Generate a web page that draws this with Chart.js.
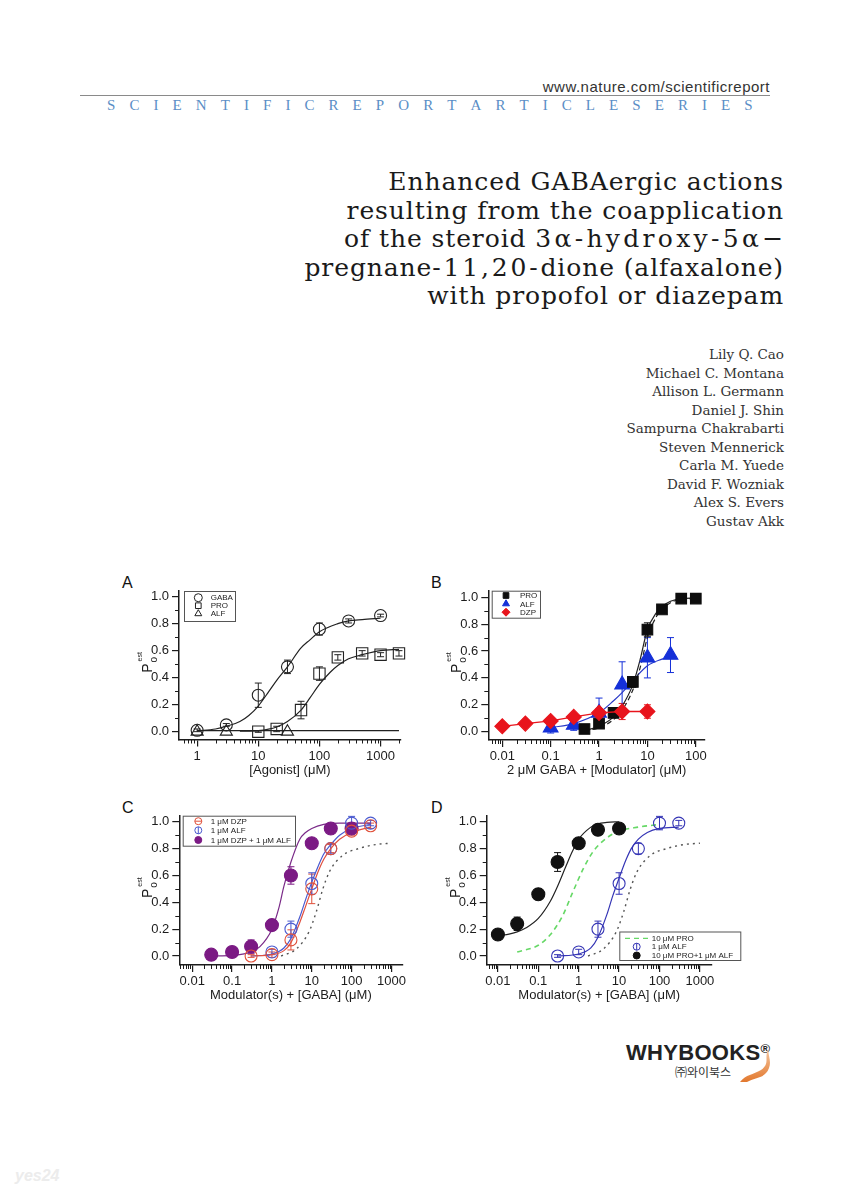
<!DOCTYPE html>
<html>
<head>
<meta charset="utf-8">
<script src="https://cdn.jsdelivr.net/npm/chart.js@4.4.1/dist/chart.umd.min.js"></script>
<style>
  html, body { margin: 0; padding: 0; background: #fff; }
  body { width: 849px; height: 1200px; position: relative; overflow: hidden; font-family: 'Liberation Sans', Arial, sans-serif; }
  .abs { position: absolute; }
  #url { right: 79px; top: 78px; font: 15px 'Liberation Sans', sans-serif; letter-spacing: 0.5px; color: #333; }
  #rule { left: 80px; top: 95px; width: 690px; height: 0; border-top: 1px solid #8a8a8a; }
  #series { left: 107px; top: 97px; width: 646px; display: flex; justify-content: space-between; font: 15px 'Liberation Serif', serif; color: #5a8ec6; }
  #title { right: 65px; top: 168px; text-align: right; font: 25px 'DejaVu Serif', serif; letter-spacing: 0.9px; line-height: 28.6px; color: #1a1a1a; white-space: nowrap; }
  #title .w3 { letter-spacing: 3.3px; }
  #title .w4 { letter-spacing: 2.8px; }
  #authors { right: 65px; top: 345px; text-align: right; font: 13.5px 'DejaVu Serif', serif; line-height: 18.5px; color: #333; white-space: nowrap; }
  .plabel { position: absolute; font: 16px 'Liberation Sans', Arial, sans-serif; color: #111; }
  canvas { position: absolute; }
  #logo { left: 626px; top: 1040px; font: bold 22px 'Liberation Sans', Arial, sans-serif; color: #222; letter-spacing: 0.3px; }
  #logo sup { font-size: 13px; vertical-align: 7px; }
  #logoKr { left: 675px; top: 1063px; font: 12px 'Noto Sans CJK KR', sans-serif; color: #333; }
  #swoosh { left: 740px; top: 1048px; }
  #wm { left: 15px; top: 1167px; font: italic bold 16px 'Liberation Sans', sans-serif; color: #ececec; }
</style>
</head>
<body>
<div id="url" class="abs">www.nature.com/scientificreport</div>
<div id="rule" class="abs"></div>
<div id="series" class="abs"></div>
<div id="title" class="abs">Enhanced GABAergic actions<br>resulting from the coapplication<br>of the steroid <span class="w3">3α-hydroxy-5α</span>−<br>pregnane<span class="w4">-11,20-</span>dione (alfaxalone)<br>with propofol or diazepam</div>
<div id="authors" class="abs">Lily Q. Cao<br>Michael C. Montana<br>Allison L. Germann<br>Daniel J. Shin<br>Sampurna Chakrabarti<br>Steven Mennerick<br>Carla M. Yuede<br>David F. Wozniak<br>Alex S. Evers<br>Gustav Akk</div>

<div class="plabel" style="left:122px;top:574px">A</div>
<div class="plabel" style="left:431px;top:574px">B</div>
<div class="plabel" style="left:122px;top:799px">C</div>
<div class="plabel" style="left:431px;top:799px">D</div>

<canvas id="chartA" width="300" height="215" style="left:110px;top:570px;width:300px;height:215px"></canvas>
<canvas id="chartB" width="300" height="215" style="left:420px;top:570px;width:300px;height:215px"></canvas>
<canvas id="chartC" width="300" height="215" style="left:110px;top:795px;width:300px;height:215px"></canvas>
<canvas id="chartD" width="330" height="215" style="left:420px;top:795px;width:330px;height:215px"></canvas>

<div id="logo" class="abs">WHYBOOKS<sup>®</sup></div>
<div id="logoKr" class="abs">㈜와이북스</div>
<svg id="swoosh" class="abs" width="32" height="34" viewBox="0 0 32 34">
  <defs><linearGradient id="og" x1="0" y1="0" x2="0" y2="1"><stop offset="0" stop-color="#f6c9a2"/><stop offset="1" stop-color="#e2782e"/></linearGradient></defs>
  <path d="M29 0 C 23 9, 31 15, 21 22 C 13 27, 6 26, 0 34 L 7 34 C 15 29, 25 31, 29 20 C 32 12, 27 7, 29 0 Z" fill="url(#og)"/>
</svg>
<div id="wm" class="abs">yes24</div>

<script>
// shared ticks
const yTicks = [0, 0.2, 0.4, 0.6, 0.8, 1.0];
const yMinor = [0.1, 0.3, 0.5, 0.7, 0.9];
const aXTicks = [1, 10, 100, 1000];
const bXTicks = [0.01, 0.1, 1, 10, 100];
const cdXTicks = [0.01, 0.1, 1, 10, 100, 1000];

// Panel A
const aGabaX = [1, 3, 10, 30, 100, 300, 1000];
const aGabaY = [0.01, 0.05, 0.27, 0.48, 0.76, 0.82, 0.86];
const aGabaErr = [0.01, 0.01, 0.09, 0.05, 0.045, 0.015, 0.01];
const aProX = [10, 20, 50, 100, 200, 500, 1000, 2000];
const aProY = [0.0, 0.02, 0.16, 0.43, 0.55, 0.58, 0.57, 0.58];
const aProErr = [0.005, 0.02, 0.065, 0.05, 0.02, 0.02, 0.015, 0.02];
const aAlfX = [1, 3, 30];
const aAlfY = [0.0, 0.0, 0.0];
const aGabaFitX = [1, 2, 3, 5, 7, 10, 15, 20, 30, 50, 70, 100, 200, 300, 500, 1000];
const aGabaFitY = [0.005, 0.02, 0.04, 0.075, 0.12, 0.19, 0.30, 0.38, 0.48, 0.62, 0.68, 0.74, 0.80, 0.82, 0.83, 0.84];
const aProFitX = [5, 10, 20, 30, 50, 70, 100, 150, 200, 300, 500, 1000, 2000];
const aProFitY = [0.003, 0.008, 0.035, 0.075, 0.16, 0.25, 0.35, 0.44, 0.49, 0.54, 0.57, 0.60, 0.61];
const aAlfFitX = [1, 2000];
const aAlfFitY = [0.008, 0.008];

// Panel B
const bProX = [0.5, 1, 2, 5, 10, 20, 50, 100];
const bProY = [0.02, 0.06, 0.14, 0.37, 0.76, 0.91, 0.99, 0.99];
const bProErr = [0.005, 0.01, 0.01, 0.04, 0.05, 0.02, 0.01, 0.01];
const bAlfX = [0.1, 0.3, 1, 3, 10, 30];
const bAlfY = [0.03, 0.05, 0.14, 0.35, 0.55, 0.57];
const bAlfErr = [0.04, 0.04, 0.11, 0.17, 0.15, 0.13];
const bDzpX = [0.01, 0.03, 0.1, 0.3, 1, 3, 10];
const bDzpY = [0.04, 0.06, 0.08, 0.11, 0.14, 0.15, 0.15];
const bDzpErr = [0.005, 0.005, 0.01, 0.02, 0.03, 0.06, 0.05];
const bProFitX = [0.5, 1, 2, 3, 5, 7, 10, 15, 20, 30, 50, 100];
const bProFitY = [0.007, 0.04, 0.11, 0.19, 0.35, 0.53, 0.76, 0.88, 0.93, 0.97, 0.99, 0.995];
const bProFit2Y = [0.005, 0.03, 0.09, 0.16, 0.31, 0.47, 0.70, 0.85, 0.91, 0.96, 0.985, 0.99];
const bAlfFitX = [0.1, 0.3, 1, 2, 3, 5, 10, 20, 30];
const bAlfFitY = [0.03, 0.06, 0.14, 0.23, 0.29, 0.38, 0.49, 0.54, 0.56];

// Panel C
const cDzpX = [0.3, 1, 3, 10, 30, 100, 300];
const cDzpY = [0.0, 0.01, 0.12, 0.50, 0.80, 0.93, 0.97];
const cDzpErr = [0.01, 0.02, 0.075, 0.11, 0.03, 0.03, 0.02];
const cAlfX = [1, 3, 10, 30, 100, 300];
const cAlfY = [0.03, 0.20, 0.54, 0.80, 0.99, 0.99];
const cAlfErr = [0.02, 0.06, 0.08, 0.04, 0.05, 0.02];
const cBothX = [0.03, 0.1, 0.3, 1, 3, 10, 30, 100];
const cBothY = [0.01, 0.03, 0.07, 0.23, 0.60, 0.84, 0.95, 0.95];
const cBothErr = [0.01, 0.01, 0.05, 0.04, 0.065, 0.02, 0.01, 0.02];
const cBothFitX = [0.03, 0.1, 0.3, 0.5, 1, 1.5, 2, 3, 5, 7, 10, 20, 50, 100, 300];
const cBothFitY = [0.0, 0.005, 0.03, 0.07, 0.20, 0.36, 0.52, 0.70, 0.87, 0.92, 0.95, 0.98, 0.99, 0.99, 0.99];
const cDzpFitX = [0.3, 1, 2, 3, 5, 7, 10, 15, 20, 30, 50, 100, 300];
const cDzpFitY = [0.0, 0.01, 0.04, 0.10, 0.25, 0.37, 0.50, 0.64, 0.72, 0.80, 0.87, 0.92, 0.96];
const cAlfFitY = [0.0, 0.015, 0.06, 0.13, 0.29, 0.42, 0.55, 0.68, 0.76, 0.83, 0.90, 0.95, 0.98];
const gabaRefX = [1.7, 4, 8.5, 13, 19, 28, 60, 150, 400, 1000];
const gabaRefY = [0.0, 0.05, 0.18, 0.33, 0.50, 0.63, 0.75, 0.80, 0.83, 0.84];

// Panel D
const dBothX = [0.01, 0.03, 0.1, 0.3, 1, 3, 10];
const dBothY = [0.16, 0.24, 0.46, 0.70, 0.84, 0.94, 0.95];
const dBothErr = [0.03, 0.05, 0.04, 0.07, 0.02, 0.02, 0.02];
const dAlfX = [0.3, 1, 3, 10, 30, 100, 300];
const dAlfY = [0.0, 0.03, 0.20, 0.54, 0.80, 0.99, 0.99];
const dAlfErr = [0.01, 0.02, 0.06, 0.08, 0.04, 0.05, 0.02];
const dBothFitX = [0.01, 0.02, 0.03, 0.05, 0.1, 0.2, 0.3, 0.5, 0.7, 1, 2, 3, 5, 10];
const dBothFitY = [0.15, 0.165, 0.18, 0.21, 0.28, 0.41, 0.52, 0.68, 0.78, 0.87, 0.96, 0.985, 0.995, 1.0];
const dProFitX = [0.03, 0.1, 0.2, 0.4, 0.7, 1.3, 2.3, 5, 10, 30, 100];
const dProFitY = [0.03, 0.08, 0.16, 0.30, 0.47, 0.65, 0.78, 0.88, 0.93, 0.96, 0.98];
const dAlfFitX = [0.3, 1, 2, 3, 5, 7, 10, 15, 20, 30, 50, 100, 300];
const dAlfFitY = [0.0, 0.015, 0.06, 0.14, 0.31, 0.45, 0.58, 0.72, 0.80, 0.87, 0.92, 0.95, 0.96];

const INK = '#1c1c1c';
const TICK_FONT = { family: "'Liberation Sans', Arial, sans-serif", size: 13 };
const LEG_FONT = "8px 'Liberation Sans', Arial, sans-serif";

document.getElementById('series').innerHTML =
  'SCIENTIFICREPORTARTICLESERIES'.split('').map(c => '<span>' + c + '</span>').join('');

const pts = (xs, ys) => xs.map((x, i) => ({ x, y: ys[i] }));

function marks(label, xs, ys, errs, style, radius, fill, stroke, extra) {
  return Object.assign({
    label, data: pts(xs, ys), errors: errs,
    pointStyle: style, pointRadius: radius,
    backgroundColor: fill, borderColor: stroke,
    borderWidth: 1.1, pointBorderWidth: 1.1, showLine: false, clip: false
  }, extra || {});
}
function curve(xs, ys, color, width, dash) {
  return {
    data: pts(xs, ys), showLine: true, pointRadius: 0,
    borderColor: color, borderWidth: width || 1.2, borderDash: dash || [],
    cubicInterpolationMode: 'monotone', fill: false
  };
}

function xAxis(min, max, tickVals, title, h) {
  return {
    type: 'logarithmic', min, max,
    afterBuildTicks: s => { s.ticks = tickVals.map(v => ({ value: v })); },
    afterFit: s => { s.height = h; },
    ticks: { callback: v => String(v), font: TICK_FONT, color: INK, padding: 2, maxRotation: 0, autoSkip: false },
    grid: { display: true, drawOnChartArea: false, drawTicks: true, tickLength: 7, color: INK, lineWidth: 1.2 },
    border: { display: true, color: INK, width: 1.5 },
    title: { display: true, text: title, font: TICK_FONT, color: INK, padding: { top: 0, bottom: 7 } }
  };
}
function yAxis(min, max, w) {
  return {
    type: 'linear', min, max,
    afterBuildTicks: s => { s.ticks = yTicks.map(v => ({ value: v })); },
    afterFit: s => { s.width = w; },
    ticks: { callback: v => v.toFixed(1), font: TICK_FONT, color: INK, padding: 3 },
    grid: { display: true, drawOnChartArea: false, drawTicks: true, tickLength: 7, color: INK, lineWidth: 1.2 },
    border: { display: true, color: INK, width: 1.5 }
  };
}

// error bars, minor ticks, y label and boxed legend
const panelPlugin = {
  id: 'panelDecor',
  beforeDatasetsDraw(chart) {
    const ctx = chart.ctx, xs = chart.scales.x, ys = chart.scales.y;
    chart.data.datasets.forEach(ds => {
      if (!ds.errors) return;
      ctx.save();
      ctx.strokeStyle = ds.borderColor;
      ctx.lineWidth = 1;
      ctx.beginPath();
      ds.data.forEach((p, i) => {
        const e = ds.errors[i];
        const px = xs.getPixelForValue(p.x);
        const y1 = ys.getPixelForValue(p.y - e), y2 = ys.getPixelForValue(p.y + e);
        ctx.moveTo(px, y1); ctx.lineTo(px, y2);
        ctx.moveTo(px - 3.5, y1); ctx.lineTo(px + 3.5, y1);
        ctx.moveTo(px - 3.5, y2); ctx.lineTo(px + 3.5, y2);
      });
      ctx.stroke();
      ctx.restore();
    });
  },
  afterDraw(chart, args, o) {
    const ctx = chart.ctx, xs = chart.scales.x, ys = chart.scales.y;
    const { left, right, top, bottom } = chart.chartArea;
    ctx.save();
    ctx.strokeStyle = INK;
    ctx.lineWidth = 1;
    ctx.beginPath();
    yMinor.forEach(v => {
      const py = Math.round(ys.getPixelForValue(v)) + 0.5;
      ctx.moveTo(left - 4, py); ctx.lineTo(left, py);
    });
    const d0 = Math.floor(Math.log10(xs.min)), d1 = Math.ceil(Math.log10(xs.max));
    for (let d = d0; d <= d1; d++) {
      for (let k = 2; k <= 9; k++) {
        const v = k * Math.pow(10, d);
        if (v < xs.min || v > xs.max) continue;
        const px = Math.round(xs.getPixelForValue(v)) + 0.5;
        ctx.moveTo(px, bottom); ctx.lineTo(px, bottom + 4);
      }
    }
    ctx.stroke();

    // y title: P with subscript o and superscript est
    ctx.translate(left - 32, (top + bottom) / 2);
    ctx.rotate(-Math.PI / 2);
    ctx.fillStyle = INK;
    ctx.textAlign = 'left';
    ctx.textBaseline = 'alphabetic';
    ctx.font = "14px 'Liberation Sans', Arial, sans-serif";
    const wP = ctx.measureText('P').width;
    ctx.fillText('P', -wP / 2 - 3, 5);
    ctx.font = "10px 'Liberation Sans', Arial, sans-serif";
    ctx.fillText('o', wP / 2 - 2, 10);
    ctx.font = "7px 'Liberation Sans', Arial, sans-serif";
    ctx.fillText('est', wP / 2 - 1, -5);
    ctx.setTransform(1, 0, 0, 1, 0, 0);

    // legend box
    const lg = o.legend;
    ctx.lineWidth = 1;
    ctx.strokeStyle = '#555';
    ctx.fillStyle = '#fff';
    ctx.fillRect(lg.x, lg.y, lg.w, lg.h);
    ctx.strokeRect(lg.x + 0.5, lg.y + 0.5, lg.w, lg.h);
    ctx.font = LEG_FONT;
    ctx.textBaseline = 'middle';
    lg.rows.forEach(r => {
      const ds = chart.data.datasets[r.ds];
      if (r.dash) {
        ctx.save();
        ctx.strokeStyle = ds.borderColor;
        ctx.lineWidth = 1.3;
        ctx.setLineDash(ds.borderDash);
        ctx.beginPath();
        ctx.moveTo(lg.dashX0, r.y); ctx.lineTo(lg.dashX1, r.y);
        ctx.stroke();
        ctx.restore();
      } else {
        ctx.save();
        ctx.fillStyle = ds.backgroundColor;
        ctx.strokeStyle = ds.borderColor;
        ctx.lineWidth = 1;
        Chart.helpers.drawPoint(ctx, { pointStyle: ds.pointStyle, radius: lg.r, rotation: 0, borderWidth: 1 }, lg.mx, r.y);
        if (r.bar) {
          ctx.beginPath();
          if (r.bar === 'v') { ctx.moveTo(lg.mx, r.y - lg.r); ctx.lineTo(lg.mx, r.y + lg.r); }
          else { ctx.moveTo(lg.mx - lg.r, r.y); ctx.lineTo(lg.mx + lg.r, r.y); }
          ctx.stroke();
        }
        ctx.restore();
      }
      ctx.fillStyle = INK;
      ctx.fillText(ds.label, lg.tx, r.y + 0.5);
    });
    ctx.restore();
  }
};

function panel(id, datasets, scales, decor, pad) {
  new Chart(document.getElementById(id), {
    type: 'scatter',
    data: { datasets },
    options: {
      responsive: false,
      animation: false,
      events: [],
      layout: { padding: pad },
      scales,
      plugins: { legend: { display: false }, tooltip: { enabled: false }, panelDecor: decor }
    },
    plugins: [panelPlugin]
  });
}

const clear = 'rgba(0,0,0,0)';

// A
panel('chartA', [
  marks('GABA', aGabaX, aGabaY, aGabaErr, 'circle', 6, clear, '#222'),
  marks('PRO', aProX, aProY, aProErr, 'rect', 8, clear, '#222'),
  marks('ALF', aAlfX, aAlfY, null, 'triangle', 7, clear, '#222'),
  curve(aGabaFitX, aGabaFitY, '#222'),
  curve(aProFitX, aProFitY, '#222'),
  curve(aAlfFitX, aAlfFitY, '#222')
], {
  x: xAxis(0.505, 2150, aXTicks, '[Agonist] (μM)', 45.5),
  y: yAxis(-0.058, 1.044, 69)
}, {
  legend: { x: 74, y: 21, w: 51, h: 30, r: 4, mx: 88.3, tx: 100.7,
    rows: [{ ds: 0, y: 27.7 }, { ds: 1, y: 35.7 }, { ds: 2, y: 43.7 }] }
}, { left: 0, top: 20.7, right: 6.7, bottom: 0 });

// B (first dataset is drawn on top)
panel('chartB', [
  marks('DZP', bDzpX, bDzpY, bDzpErr, 'rectRot', 7.5, '#e8141c', '#e8141c', { showLine: true, borderWidth: 1.3, tension: 0 }),
  marks('PRO', bProX, bProY, bProErr, 'rect', 7.5, '#0d0d0d', '#0d0d0d'),
  marks('ALF', bAlfX, bAlfY, bAlfErr, 'triangle', 8.5, '#1530d8', '#1530d8'),
  curve(bProFitX, bProFitY, '#222'),
  curve(bProFitX, bProFit2Y, '#222', 1.2, [5, 3]),
  curve(bAlfFitX, bAlfFitY, '#2a3ac8')
], {
  x: xAxis(0.00514, 155, bXTicks, '2 μM GABA + [Modulator] (μM)', 45),
  y: yAxis(-0.062, 1.049, 68.3)
}, {
  legend: { x: 71.7, y: 20.7, w: 48.3, h: 27, r: 4, mx: 86, tx: 100,
    rows: [{ ds: 1, y: 25.5 }, { ds: 2, y: 33.8 }, { ds: 0, y: 42.2 }] }
}, { left: 0, top: 20.7, right: 15, bottom: 0 });

// C
panel('chartC', [
  marks('1 μM DZP', cDzpX, cDzpY, cDzpErr, 'circle', 6, clear, '#e0503a'),
  marks('1 μM ALF', cAlfX, cAlfY, cAlfErr, 'circle', 6, clear, '#4a5ad0'),
  marks('1 μM DZP + 1 μM ALF', cBothX, cBothY, cBothErr, 'circle', 6.5, '#7b1a84', '#7b1a84'),
  curve(cBothFitX, cBothFitY, '#7a2a88'),
  curve(cDzpFitX, cDzpFitY, '#e05040'),
  curve(cDzpFitX, cAlfFitY, '#4a5ad0'),
  curve(gabaRefX, gabaRefY, '#555', 1.4, [2, 4])
], {
  x: xAxis(0.00473, 1884, cdXTicks, 'Modulator(s) + [GABA] (μM)', 45),
  y: yAxis(-0.067, 1.045, 69.3)
}, {
  legend: { x: 72.7, y: 20.7, w: 112.3, h: 30, r: 3.5, mx: 88.3, tx: 100.7,
    rows: [{ ds: 0, y: 26.2, bar: 'h' }, { ds: 1, y: 35.3, bar: 'v' }, { ds: 2, y: 45 }] }
}, { left: 0, top: 20.7, right: 6.7, bottom: 0 });

// D
panel('chartD', [
  marks('10 μM PRO+1 μM ALF', dBothX, dBothY, dBothErr, 'circle', 6.5, '#111', '#111'),
  marks('1 μM ALF', dAlfX, dAlfY, dAlfErr, 'circle', 6, clear, '#3535b5'),
  Object.assign(curve(dProFitX, dProFitY, '#66d866', 1.6, [5, 4]), { label: '10 μM PRO' }),
  curve(dBothFitX, dBothFitY, '#222'),
  curve(dAlfFitX, dAlfFitY, '#3535b5'),
  curve(gabaRefX, gabaRefY, '#555', 1.4, [2, 4])
], {
  x: xAxis(0.00528, 1960, cdXTicks, 'Modulator(s) + [GABA] (μM)', 45),
  y: yAxis(-0.067, 1.045, 66.7)
}, {
  legend: { x: 199.3, y: 136.5, w: 121, h: 28.5, r: 3.5, mx: 216.7, tx: 231.7, dashX0: 205, dashX1: 228,
    rows: [{ ds: 2, y: 143.3, dash: true }, { ds: 1, y: 151.7, bar: 'v' }, { ds: 0, y: 160.5 }] }
}, { left: 0, top: 20.7, right: 38.3, bottom: 0 });
</script>
</body>
</html>
